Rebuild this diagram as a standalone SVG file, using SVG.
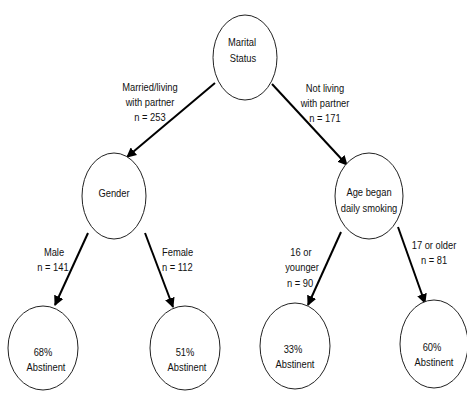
<svg xmlns="http://www.w3.org/2000/svg" width="467" height="394" viewBox="0 0 467 394">
<style>
.node ellipse{fill:#fff;stroke:#222;stroke-width:1}
text{font-family:"Liberation Sans",Arial,sans-serif;font-size:11px;fill:#111;text-anchor:middle}
.edge{stroke:#000;stroke-width:2;fill:none;marker-end:url(#ah)}
</style>
<defs>
<marker id="ah" viewBox="0 0 10 10" refX="9" refY="5" markerWidth="5" markerHeight="5" orient="auto" markerUnits="strokeWidth">
<path d="M0,0 L10,5 L0,10 z" fill="#000"/>
</marker>
</defs>
<rect width="467" height="394" fill="#fff"/>
<g id="connectors">
<line class="edge" x1="215" y1="83" x2="127" y2="157"/>
<line class="edge" x1="272" y1="84" x2="347" y2="165"/>
<line class="edge" x1="88" y1="233" x2="55" y2="305"/>
<line class="edge" x1="145" y1="233" x2="173" y2="307"/>
<line class="edge" x1="341" y1="232" x2="308" y2="305"/>
<line class="edge" x1="398" y1="227" x2="425" y2="303"/>
<text transform="translate(150 91) scale(0.85 1)">Married/living</text>
<text transform="translate(150 106) scale(0.85 1)">with partner</text>
<text transform="translate(150 121) scale(0.85 1)">n = 253</text>
<text transform="translate(325 92) scale(0.85 1)">Not living</text>
<text transform="translate(325 107) scale(0.85 1)">with partner</text>
<text transform="translate(325 122) scale(0.85 1)">n = 171</text>
<text transform="translate(54 256) scale(0.85 1)">Male</text>
<text transform="translate(53 271) scale(0.85 1)">n = 141</text>
<text transform="translate(162 256) scale(0.85 1)" style="text-anchor:start">Female</text>
<text transform="translate(162 271) scale(0.85 1)" style="text-anchor:start">n = 112</text>
<text transform="translate(301 256) scale(0.85 1)">16 or</text>
<text transform="translate(302 271) scale(0.85 1)">younger</text>
<text transform="translate(300 287) scale(0.85 1)">n = 90</text>
<text transform="translate(434 249) scale(0.85 1)">17 or older</text>
<text transform="translate(434 264) scale(0.85 1)">n = 81</text>
</g>
<g id="marital" class="node"><ellipse cx="245" cy="57.5" rx="32" ry="42.5"/><text transform="translate(242 46) scale(0.85 1)">Marital</text><text transform="translate(243 62) scale(0.85 1)">Status</text></g>
<g id="gender" class="node"><ellipse cx="114" cy="196" rx="32" ry="43"/><text transform="translate(114 197) scale(0.85 1)">Gender</text></g>
<g id="age" class="node"><ellipse cx="369" cy="196" rx="34" ry="43"/><text transform="translate(369 196) scale(0.85 1)">Age began</text><text transform="translate(369 212) scale(0.85 1)">daily smoking</text></g>
<g id="male" class="node"><ellipse cx="43" cy="348" rx="35" ry="42"/><text transform="translate(43 356) scale(0.85 1)">68%</text><text transform="translate(46 371) scale(0.85 1)">Abstinent</text></g>
<g id="female" class="node"><ellipse cx="185" cy="348" rx="35" ry="42"/><text transform="translate(185 356) scale(0.85 1)">51%</text><text transform="translate(187 371) scale(0.85 1)">Abstinent</text></g>
<g id="young" class="node"><ellipse cx="295" cy="346" rx="35" ry="43"/><text transform="translate(293 353) scale(0.85 1)">33%</text><text transform="translate(295 368) scale(0.85 1)">Abstinent</text></g>
<g id="old" class="node"><ellipse cx="434" cy="344" rx="34" ry="44"/><text transform="translate(432 351) scale(0.85 1)">60%</text><text transform="translate(434 366) scale(0.85 1)">Abstinent</text></g>
</svg>
